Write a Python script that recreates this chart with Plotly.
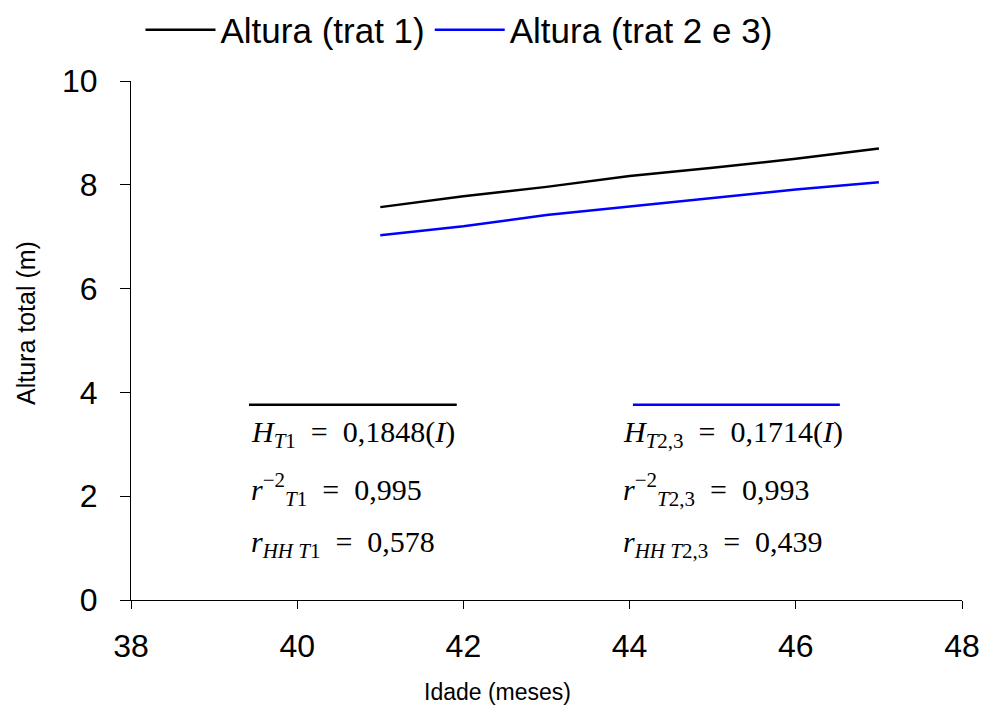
import plotly.graph_objects as go

idade = [41, 42, 43, 44, 45, 46, 47]
altura_t1 = [7.57, 7.78, 7.96, 8.17, 8.33, 8.50, 8.70]
altura_t23 = [7.03, 7.20, 7.42, 7.58, 7.74, 7.91, 8.05]

x_ticks = [38, 40, 42, 44, 46, 48]
y_ticks = [0, 2, 4, 6, 8, 10]

serif = "Liberation Serif, Times New Roman, serif"
sans = "Liberation Sans, Arial, sans-serif"

fig = go.Figure()
fig.add_trace(go.Scatter(x=idade, y=altura_t1, mode="lines", name="Altura (trat 1)",
                         line=dict(color="#000000", width=2.5)))
fig.add_trace(go.Scatter(x=idade, y=altura_t23, mode="lines", name="Altura (trat 2 e 3)",
                         line=dict(color="#0000FF", width=2.5)))

# overlines above the equations
fig.add_shape(type="line", x0=39.42, x1=41.92, y0=3.76, y1=3.76, xref="x", yref="y",
              line=dict(color="#000000", width=2.5))
fig.add_shape(type="line", x0=44.04, x1=46.53, y0=3.76, y1=3.76, xref="x", yref="y",
              line=dict(color="#0000FF", width=2.5))

eq_font = dict(family=serif, size=30, color="#000000")

eqs = [
    (39.42, 3.20, "<i>H</i><sub><i>T</i>1</sub>  =  0,1848(<i>I</i>)"),
    (39.42, 2.12, "<i>r</i><sup>−2</sup><sub><i>T</i>1</sub>  =  0,995"),
    (39.42, 1.08, "<i>r</i><sub><i>HH T</i>1</sub>  =  0,578"),
    (43.90, 3.20, "<i>H</i><sub><i>T</i>2,3</sub>  =  0,1714(<i>I</i>)"),
    (43.90, 2.12, "<i>r</i><sup>−2</sup><sub><i>T</i>2,3</sub>  =  0,993"),
    (43.90, 1.08, "<i>r</i><sub><i>HH T</i>2,3</sub>  =  0,439"),
]
for x, y, t in eqs:
    fig.add_annotation(x=x, y=y, xref="x", yref="y", text=t, showarrow=False,
                       xanchor="left", yanchor="middle", font=eq_font)

L, R, T, B = 131, 962, 81, 600
W, H = 987, 725

def px(xp, yp):
    return (xp - L) / (R - L), (B - yp) / (B - T)

# axis titles
ax_x, ax_y = px(497, 692)
fig.add_annotation(x=ax_x, y=ax_y, xref="paper", yref="paper", text="Idade (meses)",
                   showarrow=False, xanchor="center", yanchor="middle",
                   font=dict(family=sans, size=23, color="#000000"))
ay_x, ay_y = px(26, 323)
fig.add_annotation(x=ay_x, y=ay_y, xref="paper", yref="paper", text="Altura total (m)",
                   showarrow=False, textangle=-90, xanchor="center", yanchor="middle",
                   font=dict(family=sans, size=25, color="#000000"))

lg_x, lg_y = px(140.5, 30)

fig.update_layout(
    width=W, height=H,
    margin=dict(l=L, r=W - R, t=T, b=H - B, autoexpand=False),
    paper_bgcolor="white", plot_bgcolor="white",
    font=dict(family=sans, color="#000000"),
    showlegend=True,
    legend=dict(orientation="h", x=lg_x, y=lg_y, xanchor="left", yanchor="middle",
                font=dict(family=sans, size=35, color="#000000"),
                bgcolor="rgba(0,0,0,0)", itemwidth=70, tracegroupgap=0),
    xaxis=dict(range=[38, 48], tickvals=x_ticks, ticks="outside", ticklen=8, tickwidth=1,
               tickcolor="#000", showline=True, linecolor="#000", linewidth=1,
               showgrid=False, zeroline=False, tickfont=dict(family=sans, size=32),
               ticklabelstandoff=10),
    yaxis=dict(range=[0, 10], tickvals=y_ticks, ticks="outside", ticklen=10, tickwidth=1,
               tickcolor="#000", showline=True, linecolor="#000", linewidth=1,
               showgrid=False, zeroline=False, tickfont=dict(family=sans, size=32),
               ticklabelstandoff=16),
)

fig.write_html("out.html")
